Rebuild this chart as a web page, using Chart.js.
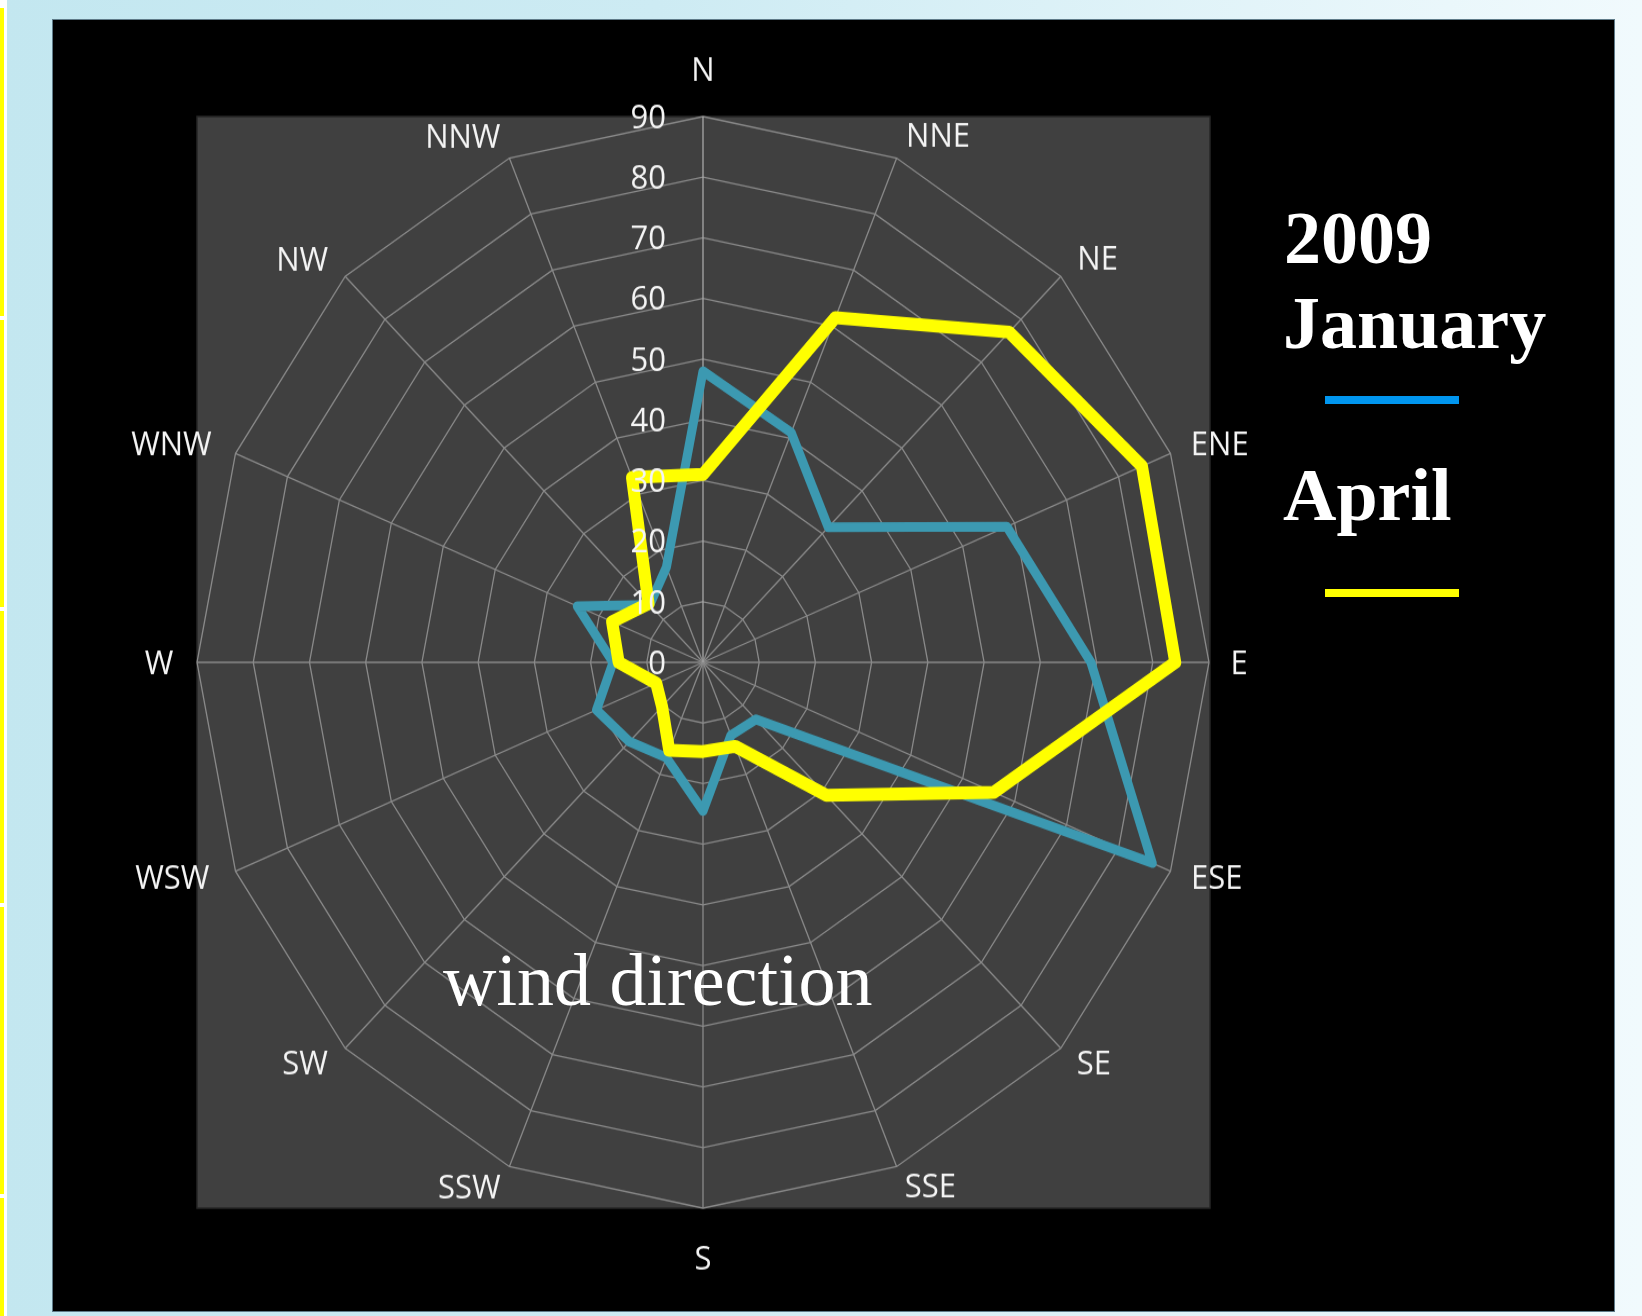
<!DOCTYPE html>
<html>
<head>
<meta charset="utf-8">
<title>Wind direction 2009</title>
<script src="https://cdn.jsdelivr.net/npm/chart.js@4.4.1/dist/chart.umd.min.js"></script>
<style>
  html, body { margin: 0; padding: 0; }
  body {
    width: 1642px; height: 1316px; overflow: hidden; position: relative;
    background: linear-gradient(to right, #c3e7f0 0%, #cdebf3 40%, #f1fafd 100%);
  }
  .edge { position: absolute; left: 0; top: 0; width: 7px; height: 1316px; background: #ffffff; }
  .edge i { position: absolute; left: 0; width: 4px; background: #ffff00; }
  #panel {
    position: absolute; left: 52px; top: 19px; width: 1561px; height: 1291px;
    background: #000000; border: 1px solid #5f7b89;
  }
  #stage {
    position: absolute; left: 0; top: 0; width: 1642px; height: 1220px;
    transform: scaleY(1.0787); transform-origin: 0 0;
  }
  .serif {
    position: absolute; white-space: nowrap; color: #ffffff;
    font-family: "Liberation Serif", "Times New Roman", serif;
    font-size: 74px; line-height: 74px;
  }
  .bold { font-weight: bold; }
  .swatch { position: absolute; left: 1325px; width: 134px; height: 8px; }
</style>
</head>
<body>
<div class="edge">
  <i style="top:8px;height:308px"></i>
  <i style="top:320px;height:287px"></i>
  <i style="top:611px;height:292px"></i>
  <i style="top:907px;height:287px"></i>
  <i style="top:1198px;height:118px"></i>
</div>
<div id="panel"></div>
<div id="stage"><canvas id="rose" width="1642" height="1220"></canvas></div>

<div class="serif bold" style="left:1284px;top:201px">2009</div>
<div class="serif bold" style="left:1283px;top:286px">January</div>
<div class="swatch" style="top:396px;background:#0096ef"></div>
<div class="serif bold" style="left:1283px;top:458px">April</div>
<div class="swatch" style="top:589px;background:#ffff00"></div>
<div class="serif" style="left:443px;top:943px">wind direction</div>

<script>
// Sixteen compass sectors, clockwise from north
const directions = ['N', 'NNE', 'NE', 'ENE', 'E', 'ESE', 'SE', 'SSE',
                    'S', 'SSW', 'SW', 'WSW', 'W', 'WNW', 'NW', 'NNW'];

// Counts per sector
const january = [48, 41, 31.5, 58.5, 69, 86.5, 13.3, 13, 24.5, 17, 18.5, 20.5, 16, 24.2, 13.4, 17];
const april   = [31, 61.5, 77, 84.5, 84, 56, 31, 15, 14.7, 15.7, 10.3, 9, 15, 17.5, 13.7, 33];

// Radial axis tick values
const radiusTicks = [0, 10, 20, 30, 40, 50, 60, 70, 80, 90];

// Compass label placement: gap beyond the outer ring (px) and a small turn (degrees)
const labelGap  = [44, 36, 38, 49, 30, 45, 33, 30, 46, 33, 38, 61, 38, 63, 42, 38];
const labelTurn = [0, 3.2, 1.5, 1.1, 0, -1.3, -1.5, -2.6, 0, 3.2, 2, 1.9, 0, -1.6, -2, -3.7];

const LABEL_FONT = '31px "Open Sans", "Noto Sans", sans-serif';

// Plot-area square behind the web, plus tick and compass labels on top
const roseFrame = {
  id: 'roseFrame',
  beforeDraw(chart) {
    const r = chart.scales.r;
    const ctx = chart.ctx;
    const R = r.drawingArea;
    ctx.save();
    ctx.fillStyle = '#404040';
    ctx.fillRect(r.xCenter - R, r.yCenter - R, 2 * R + 1, 2 * R);
    ctx.strokeStyle = '#262626';
    ctx.lineWidth = 1.5;
    ctx.strokeRect(r.xCenter - R, r.yCenter - R, 2 * R + 1, 2 * R);
    ctx.restore();
  },
  afterDatasetsDraw(chart) {
    const r = chart.scales.r;
    const ctx = chart.ctx;
    ctx.save();
    ctx.fillStyle = '#f4f4f4';
    ctx.font = LABEL_FONT;
    ctx.textBaseline = 'middle';

    ctx.textAlign = 'right';
    r.ticks.forEach(t => {
      const y = r.yCenter - r.getDistanceFromCenterForValue(t.value);
      ctx.fillText(t.label, r.xCenter - 37, y + 2);
    });

    ctx.textAlign = 'center';
    chart.data.labels.forEach((name, i) => {
      const p = r.getPointPosition(i, r.drawingArea + labelGap[i], labelTurn[i] * Math.PI / 180);
      ctx.fillText(name, p.x, p.y + 2);
    });
    ctx.restore();
  }
};

new Chart(document.getElementById('rose'), {
  type: 'radar',
  data: {
    labels: directions,
    datasets: [
      { label: 'January', data: january, borderColor: '#3c99b1', borderWidth: 9, fill: false, order: 2 },
      { label: 'April', data: april, borderColor: '#ffff00', borderWidth: 12, fill: false, order: 1 }
    ]
  },
  options: {
    responsive: false,
    animation: false,
    devicePixelRatio: 1,
    layout: { padding: { left: 197, right: 433, top: 108, bottom: 100 } },
    elements: {
      line: { tension: 0, fill: false, borderJoinStyle: 'round', borderCapStyle: 'round' },
      point: { radius: 0, hoverRadius: 0 }
    },
    plugins: { legend: { display: false }, tooltip: { enabled: false } },
    scales: {
      r: {
        min: radiusTicks[0],
        max: radiusTicks[radiusTicks.length - 1],
        ticks: { stepSize: radiusTicks[1] - radiusTicks[0], display: false },
        grid: { color: '#8a8a8a', lineWidth: 1.3 },
        angleLines: { color: c => (c.index === 0 ? '#a8a8a8' : '#8a8a8a'), lineWidth: 1.3 },
        pointLabels: { display: false }
      }
    }
  },
  plugins: [roseFrame]
});
</script>
</body>
</html>
